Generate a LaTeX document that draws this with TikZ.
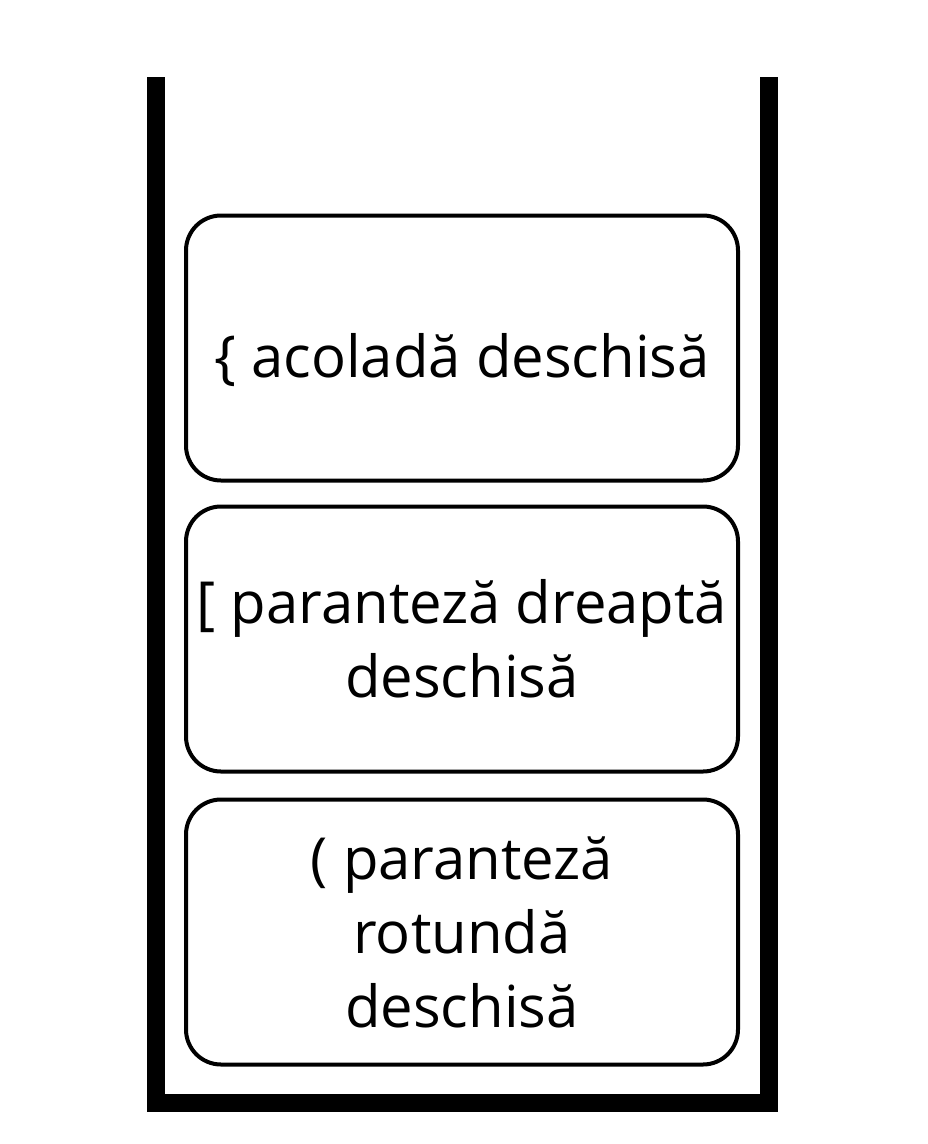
\documentclass[tikz,border=0pt]{standalone}
\usepackage{fontspec}
\setmainfont{Open Sans}
\usetikzlibrary{positioning}

\tikzset{
  stackitem/.style={draw, line width=4pt, rounded corners=35pt,
    minimum width=552pt, minimum height=265pt, align=center,
    font=\fontsize{58}{74}\selectfont, inner sep=0pt},
  wall/.style={line width=18pt, line join=miter}
}

\begin{document}
\begin{tikzpicture}[x=1pt, y=-1pt]
        \useasboundingbox (0,0) rectangle (928,1144);
        \coordinate (TL) at (156, 77);
        \coordinate (BL) at (156, 1102.5);
        \coordinate (BR) at (769, 1102.5);
        \coordinate (TR) at (769, 77);
        \draw[wall] (TL) -- (BL) -- (BR) -- (TR);
        \node[stackitem] (acolada) at (462, 348) {\raisebox{-29pt}[0pt][0pt]{\{ acoladă deschisă}};
        \node[stackitem, below=22pt of acolada] (dreapta) {[ paranteză dreaptă\\deschisă};
        \node[stackitem, below=24pt of dreapta] (rotunda) {( paranteză\\rotundă\\deschisă};
    \end{tikzpicture}
\end{document}
